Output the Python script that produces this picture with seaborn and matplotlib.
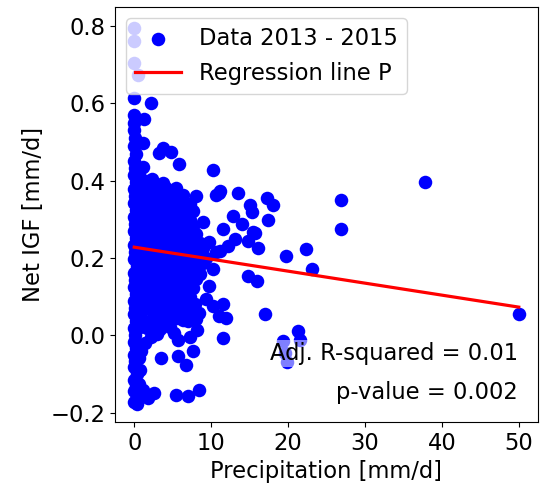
import matplotlib
matplotlib.use("Agg")
import matplotlib.pyplot as plt
import numpy as np
import pandas as pd
import seaborn as sns

# --- daily observations (precipitation [mm/d], net IGF [mm/d]) ---
# near-zero precipitation days
column = [(0.0, -0.172), (0.3, -0.16), (0.0, -0.145), (0.2, -0.13), (0.0, -0.115),
          (0.3, -0.10), (0.0, -0.083), (0.1, -0.067), (0.0, -0.05), (0.2, -0.033),
          (0.0, -0.017), (0.1, 0.0), (0.0, 0.018), (0.2, 0.036), (0.0, 0.055),
          (0.1, 0.072), (0.0, 0.09), (0.2, 0.108), (0.0, 0.126), (0.1, 0.144),
          (0.0, 0.162), (0.3, 0.18), (0.0, 0.198), (0.1, 0.216), (0.0, 0.234),
          (0.2, 0.252), (0.0, 0.27), (0.1, 0.288), (0.0, 0.306), (0.2, 0.324),
          (0.0, 0.342), (0.1, 0.36), (0.0, 0.378), (0.2, 0.396), (0.0, 0.414),
          (0.1, 0.432), (0.0, 0.45), (0.2, 0.47), (0.0, 0.49), (0.1, 0.51),
          (0.0, 0.53), (0.0, 0.55), (0.0, 0.57), (0.0, 0.613), (0.5, 0.672),
          (0.0, 0.703), (0.0, 0.76), (0.0, 0.795)]

# negative IGF days
low = [(1.8, -0.162), (0.3, -0.178), (1.0, -0.15), (2.6, -0.149), (1.2, -0.142),
       (0.6, -0.125), (0.8, -0.09), (0.6, -0.059), (0.9, -0.04), (1.4, -0.02),
       (2.2, -0.005), (3.5, -0.059), (5.4, -0.154), (7.0, -0.156), (8.4, -0.141),
       (5.7, -0.054), (6.7, -0.077), (7.6, -0.041), (5.7, -0.013), (5.2, 0.005),
       (7.3, -0.003), (8.2, 0.013), (3.0, 0.003)]

# bulk of the light-rain days
core = [
    (0.8, 0.021), (1.7, 0.018), (2.6, 0.024), (3.4, 0.017), (4.6, 0.022),
    (0.5, 0.041), (1.3, 0.038), (2.8, 0.043), (3.7, 0.036), (4.5, 0.04), (5.5, 0.044), (6.3, 0.039), (7.0, 0.036), (8.0, 0.042),
    (0.9, 0.061), (2.4, 0.058), (3.3, 0.063), (4.1, 0.059), (5.0, 0.062), (5.9, 0.057), (6.8, 0.061), (7.6, 0.064), (8.4, 0.058),
    (0.5, 0.081), (1.3, 0.078), (2.1, 0.083), (2.9, 0.079), (3.7, 0.082), (4.5, 0.077), (5.3, 0.081), (6.1, 0.084), (7.0, 0.079), (7.9, 0.082),
    (0.9, 0.101), (1.7, 0.098), (2.5, 0.103), (3.3, 0.099), (4.1, 0.102), (4.9, 0.097), (5.7, 0.101), (6.5, 0.104), (7.3, 0.099),
    (0.5, 0.121), (1.3, 0.118), (2.1, 0.123), (2.9, 0.119), (3.7, 0.122), (4.5, 0.117), (5.3, 0.121), (6.1, 0.124), (6.9, 0.119), (7.7, 0.122),
    (0.9, 0.141), (1.7, 0.138), (2.5, 0.143), (3.3, 0.139), (4.1, 0.142), (4.9, 0.137), (5.7, 0.141), (6.5, 0.144), (7.3, 0.139),
    (0.5, 0.161), (1.3, 0.158), (2.1, 0.163), (2.9, 0.159), (3.7, 0.162), (4.5, 0.157), (5.3, 0.161), (6.1, 0.164), (6.9, 0.159), (7.7, 0.162), (8.6, 0.158),
    (0.9, 0.181), (1.7, 0.178), (2.5, 0.183), (3.3, 0.179), (4.1, 0.182), (4.9, 0.177), (5.7, 0.181), (6.5, 0.184), (7.3, 0.179), (8.1, 0.182), (8.9, 0.186),
    (0.5, 0.201), (1.3, 0.198), (2.1, 0.203), (2.9, 0.199), (3.7, 0.202), (4.5, 0.197), (5.3, 0.201), (6.1, 0.204), (6.9, 0.199), (7.7, 0.202), (8.5, 0.198), (9.3, 0.201),
    (0.9, 0.221), (1.7, 0.218), (2.5, 0.223), (3.3, 0.219), (4.1, 0.222), (4.9, 0.217), (5.7, 0.221), (6.5, 0.224), (7.3, 0.219), (8.1, 0.222), (8.9, 0.226),
    (0.5, 0.241), (1.3, 0.238), (2.1, 0.243), (2.9, 0.239), (3.7, 0.242), (4.5, 0.237), (5.3, 0.241), (6.1, 0.244), (6.9, 0.239), (7.7, 0.242), (8.5, 0.238),
    (0.9, 0.261), (1.7, 0.258), (2.5, 0.263), (3.3, 0.259), (4.1, 0.262), (4.9, 0.257), (5.7, 0.261), (6.5, 0.264), (7.3, 0.259), (8.0, 0.262),
    (0.5, 0.281), (1.3, 0.278), (2.1, 0.283), (2.9, 0.279), (3.7, 0.282), (4.5, 0.277), (5.3, 0.281), (6.1, 0.284), (6.9, 0.279), (7.6, 0.282),
    (0.9, 0.301), (1.7, 0.298), (2.5, 0.303), (3.3, 0.299), (4.1, 0.302), (4.9, 0.297), (5.7, 0.301), (6.5, 0.304), (7.2, 0.299),
    (0.5, 0.321), (1.3, 0.318), (2.1, 0.323), (2.9, 0.319), (3.7, 0.322), (4.5, 0.317), (5.3, 0.321), (6.1, 0.324), (6.9, 0.319), (7.6, 0.322),
    (0.9, 0.341), (1.7, 0.338), (2.5, 0.343), (3.3, 0.339), (4.1, 0.342), (4.9, 0.337), (5.7, 0.341), (6.5, 0.344), (7.2, 0.339),
    (0.5, 0.361), (1.3, 0.358), (2.1, 0.363), (2.9, 0.359), (3.7, 0.362), (4.5, 0.357), (5.4, 0.361), (6.3, 0.364),
    (0.9, 0.381), (1.7, 0.378), (2.5, 0.383), (3.3, 0.379), (4.1, 0.382),
    (0.7, 0.401), (1.5, 0.398), (2.3, 0.403),
    (0.6, 0.421),
]

# upper outliers on light-rain days
upper = [(2.2, 0.600), (1.3, 0.559), (1.2, 0.497), (3.7, 0.485), (4.8, 0.474),
         (3.2, 0.472), (5.8, 0.444), (1.2, 0.436), (10.2, 0.428), (3.7, 0.395),
         (5.4, 0.382), (11.0, 0.369), (1.8, 0.385)]

# moderate to heavy rain days
wet = [(8.0, 0.36), (10.6, 0.364), (11.2, 0.372), (13.5, 0.367), (15.1, 0.338),
       (17.3, 0.354), (18.0, 0.336), (15.3, 0.32), (12.9, 0.308), (14.0, 0.287),
       (17.4, 0.297), (11.6, 0.274), (15.5, 0.267), (13.1, 0.249), (14.8, 0.244),
       (12.2, 0.231), (16.1, 0.226), (11.2, 0.218), (19.7, 0.205), (22.3, 0.223),
       (23.1, 0.172), (14.8, 0.154), (16.0, 0.141), (15.7, 0.264), (8.9, 0.292),
       (9.7, 0.241), (10.6, 0.215), (10.3, 0.172), (9.7, 0.128), (8.0, 0.146),
       (9.3, 0.095), (26.9, 0.349), (26.9, 0.274), (37.8, 0.397), (50.0, 0.054),
       (17.0, 0.054), (21.3, 0.010), (11.5, 0.082), (11.9, 0.044), (11.0, 0.049),
       (11.6, -0.008), (10.2, 0.077), (19.3, -0.015), (19.9, -0.07),
       (21.5, -0.012), (19.6, -0.045)]

# OLS fit of net IGF on precipitation
intercept = 0.228
slope = -0.00310
adj_r2_text = "Adj. R-squared = 0.01"
p_text = "p-value = 0.002"

groups = column + low + core + upper + wet
precip = [p for p, _ in groups]
net_igf = [g for _, g in groups]
df = pd.DataFrame({"precip": precip, "net_igf": net_igf})

FS = 16.3

fig, ax = plt.subplots(figsize=(5.46, 4.92), dpi=100)
fig.subplots_adjust(left=0.2106, right=0.9853, bottom=0.1423, top=0.9858)

sns.scatterplot(data=df, x="precip", y="net_igf", color="blue", s=95,
                linewidth=0, label="Data 2013 - 2015", ax=ax, zorder=2)

fit_x = np.array([0.0, 50.0])
fit_y = intercept + slope * fit_x
sns.lineplot(x=fit_x, y=fit_y, color="red", linewidth=2.3,
             label="Regression line P", ax=ax, zorder=3)

ax.set_xlim(-2.5, 52.5)
ax.set_ylim(-0.224, 0.849)
ax.set_xticks([0, 10, 20, 30, 40, 50])
ax.set_yticks([-0.2, 0.0, 0.2, 0.4, 0.6, 0.8])
ax.tick_params(labelsize=FS)
ax.set_xlabel("Precipitation [mm/d]", fontsize=FS)
ax.set_ylabel("Net IGF [mm/d]", fontsize=FS)

box = dict(facecolor="white", alpha=0.5, edgecolor="none", pad=1.5)
ax.text(0.953, 0.164, adj_r2_text, transform=ax.transAxes, ha="right",
        va="center", fontsize=FS, bbox=box, zorder=4)
ax.text(0.953, 0.070, p_text, transform=ax.transAxes, ha="right",
        va="center", fontsize=FS, bbox=box, zorder=4)

ax.legend(loc="upper left", fontsize=FS)

fig.savefig("out.png", dpi=100)
